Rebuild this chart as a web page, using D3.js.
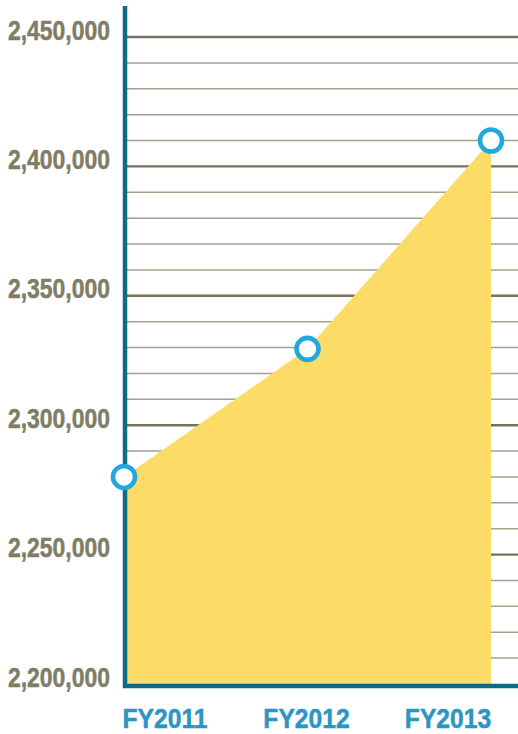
<!DOCTYPE html>
<head>
	<meta charset="utf-8">
	<title>Enrollment FY2011-FY2013</title>
</head>
<style>
body { margin: 0; background: #fff; }
.ylab { font-family: "Liberation Sans Narrow", "Liberation Sans", sans-serif; font-weight: bold; fill: #7f7d65; stroke: #7f7d65; stroke-width: 0.5px; }
.xlab { font-family: "Liberation Sans Narrow", "Liberation Sans", sans-serif; font-weight: bold; fill: #2b95c4; stroke: #2b95c4; stroke-width: 0.5px; }
</style>
<svg id="svg" width="518" height="734"></svg>
<script src="https://cdn.jsdelivr.net/npm/d3@7"></script>
<script>

var years = ["FY2011", "FY2012", "FY2013"];
var totals = [2280000, 2329500, 2410000];
var yTicks = [2200000, 2250000, 2300000, 2350000, 2400000, 2450000];

var svg = d3.select("svg"),
    width = +svg.attr("width"),
    height = +svg.attr("height");

var y = d3.scaleLinear()
    .domain([2200000, 2450000])
    .range([684, 37]);

var x = d3.scalePoint()
    .domain(years)
    .range([124, 491]);

// labels sit on their own spacing under the axis
var xLabel = d3.scalePoint()
    .domain(years)
    .range([165, 448]);

var fmt = d3.format(",");

// grid: every 10,000, darker every 50,000
var minor = d3.range(2210000, 2450001, 10000).filter(function(v) { return v % 50000 != 0; });

svg.append("g").selectAll("line")
    .data(minor)
    .enter().append("line")
      .attr("x1", 127).attr("x2", width)
      .attr("y1", function(d) { return y(d); })
      .attr("y2", function(d) { return y(d); })
      .attr("stroke", "#a3a18c")
      .attr("stroke-width", 1.5);

svg.append("g").selectAll("line")
    .data(yTicks.slice(1))
    .enter().append("line")
      .attr("x1", 127).attr("x2", width)
      .attr("y1", function(d) { return y(d); })
      .attr("y2", function(d) { return y(d); })
      .attr("stroke", "#75735b")
      .attr("stroke-width", 2.4);

var area = d3.area()
    .x(function(d, i) { return x(years[i]); })
    .y0(y(2200000))
    .y1(function(d) { return y(d); });

svg.append("path")
    .datum(totals)
    .attr("fill", "#fcdb66")
    .attr("d", area);

// axes
svg.append("line")
    .attr("x1", 125).attr("x2", 125)
    .attr("y1", 6).attr("y2", 688)
    .attr("stroke", "#0f6a86")
    .attr("stroke-width", 4.5);

svg.append("line")
    .attr("x1", 123).attr("x2", width)
    .attr("y1", 686).attr("y2", 686)
    .attr("stroke", "#0f6a86")
    .attr("stroke-width", 4.5);

svg.append("g").selectAll("circle")
    .data(totals)
    .enter().append("circle")
      .attr("cx", function(d, i) { return x(years[i]); })
      .attr("cy", function(d) { return y(d); })
      .attr("r", 11)
      .attr("fill", "#fff")
      .attr("stroke", "#22a8de")
      .attr("stroke-width", 4.6);

// squeeze text to look condensed
function squeeze(sel, k) {
  sel.each(function() {
    var w = this.getComputedTextLength();
    d3.select(this)
      .attr("textLength", w * k)
      .attr("lengthAdjust", "spacingAndGlyphs");
  });
}

svg.append("g").selectAll("text")
    .data(yTicks)
    .enter().append("text")
      .attr("class", "ylab")
      .attr("x", 110)
      .attr("y", function(d) { return y(d) + 2.5; })
      .attr("text-anchor", "end")
      .attr("font-size", 27)
      .text(function(d) { return fmt(d); })
      .call(squeeze, 0.85);

svg.append("g").selectAll("text")
    .data(years)
    .enter().append("text")
      .attr("class", "xlab")
      .attr("x", function(d) { return xLabel(d); })
      .attr("y", 728)
      .attr("text-anchor", "middle")
      .attr("font-size", 28)
      .text(function(d) { return d; })
      .call(squeeze, 0.88);

</script>
